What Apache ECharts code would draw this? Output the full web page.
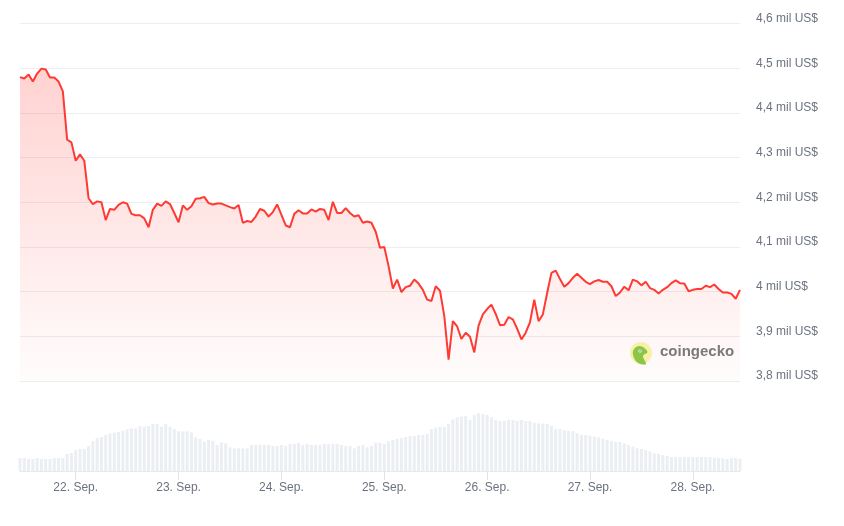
<!DOCTYPE html>
<html>
<head>
<meta charset="utf-8">
<script src="https://cdn.jsdelivr.net/npm/echarts@6/dist/echarts.min.js"></script>
<style>
html,body{margin:0;padding:0;background:#fff;}
#chart{width:844px;height:526px;}
</style>
</head>
<body>
<div id="chart"></div>
<script>
// Hourly samples from 21 Sep 11:00 to 28 Sep 11:00
const startDay = 21, startHour = 11, hourCount = 169;
const monthName = 'Sep.';

// price in US$
const prices = [
 4480,4477,4486,4470,4488,4499,4497,4479,4479,4470,
 4448,4340,4334,4293,4307,4293,4209,4196,4202,4200,
 4160,4185,4183,4194,4200,4197,4174,4171,4171,4164,
 4144,4183,4197,4192,4202,4196,4176,4155,4193,4183,
 4191,4208,4209,4212,4198,4195,4197,4197,4193,4189,
 4186,4194,4154,4158,4156,4168,4185,4181,4168,4178,
 4195,4172,4148,4144,4174,4182,4175,4175,4184,4179,
 4185,4183,4160,4201,4176,4176,4187,4176,4168,4171,
 4154,4157,4154,4134,4098,4100,4057,4007,4027,3999,
 4010,4013,4027,4018,4004,3982,3979,4012,4002,3945,
 3848,3934,3922,3894,3908,3899,3864,3924,3949,3961,
 3971,3950,3925,3926,3943,3938,3917,3893,3908,3932,
 3982,3934,3949,3997,4042,4047,4028,4011,4019,4031,
 4040,4031,4022,4017,4023,4026,4022,4022,4012,3990,
 3998,4011,4003,4027,4023,4014,4022,4008,4004,3996,
 4004,4010,4019,4025,4019,4018,4001,4004,4006,4006,
 4013,4010,4016,4006,3998,3998,3995,3984,4004
];

// trading volume (relative units)
const volumes = [
 39,39,36,36,39,36,36,36,39,39,
 39,51,54,63,66,66,75,90,99,102,
 108,113,115,117,121,125,128,128,135,133,
 135,141,141,133,141,133,126,119,119,119,
 116,101,96,88,93,90,78,86,83,71,
 68,68,68,68,78,78,78,78,78,75,
 75,78,75,81,81,84,78,81,78,78,
 78,81,81,81,81,78,75,75,68,75,
 78,71,75,85,85,81,89,93,96,99,
 102,105,105,108,108,111,126,130,132,132,
 141,155,161,163,165,153,168,173,171,168,
 161,153,150,150,153,153,150,153,150,150,
 145,143,142,141,135,126,126,123,120,120,
 113,108,108,106,103,101,97,93,89,87,
 87,83,78,73,68,66,63,58,53,51,
 48,45,42,42,42,42,42,42,42,42,
 42,42,40,39,38,36,39,39,37
];

const categories = [];
for (let i = 0; i < hourCount; i++) {
  const h = startHour + i;
  categories.push({ day: startDay + Math.floor(h / 24), hour: h % 24 });
}
const catLabels = categories.map(c => c.day + '. ' + monthName + ' ' + String(c.hour).padStart(2, '0') + ':00');
const isMidnight = idx => categories[idx].hour === 0;

const chart = echarts.init(document.getElementById('chart'), null, { renderer: 'canvas' });
const gray = '#6b7280';
const font = 'Liberation Sans, Arial, sans-serif';

chart.setOption({
  animation: false,
  backgroundColor: '#ffffff',
  grid: [
    { left: 20, right: 104, top: 23.5, bottom: 145 },
    { left: 20, right: 104, top: 390, bottom: 55 }
  ],
  xAxis: [
    { type: 'category', gridIndex: 0, data: catLabels, boundaryGap: false,
      axisLine: { show: false }, axisTick: { show: false }, axisLabel: { show: false }, splitLine: { show: false } },
    { type: 'category', gridIndex: 1, data: catLabels, boundaryGap: false,
      axisLine: { show: true, lineStyle: { color: '#e6e9ed', width: 1 } },
      axisTick: { show: true, interval: isMidnight, length: 9, lineStyle: { color: '#e1e5ea' } },
      axisLabel: { show: true, interval: isMidnight, color: gray, fontFamily: font, fontSize: 12, margin: 11,
        formatter: (v, idx) => categories[idx].day + '. ' + monthName },
      splitLine: { show: false } }
  ],
  yAxis: [
    { type: 'value', gridIndex: 0, position: 'right', min: 3800, max: 4600, interval: 100,
      axisLine: { show: false }, axisTick: { show: false },
      splitLine: { show: true, lineStyle: { color: '#eceef1', width: 1 } },
      axisLabel: { color: gray, fontFamily: font, fontSize: 12, margin: 16, align: 'left',
        verticalAlign: 'bottom', lineHeight: 10,
        formatter: v => (v % 1000 === 0 ? String(v / 1000) : (v / 1000).toFixed(1).replace('.', ',')) + ' mil US$' } },
    { type: 'value', gridIndex: 1, min: 0, max: 243, show: false, splitLine: { show: false } }
  ],
  series: [
    { type: 'bar', xAxisIndex: 1, yAxisIndex: 1, data: volumes, barWidth: 3,
      itemStyle: { color: '#ebeef2' }, silent: true },
    { type: 'line', xAxisIndex: 0, yAxisIndex: 0, data: prices, symbol: 'none', smooth: false,
      lineStyle: { color: '#ff3a33', width: 2 },
      areaStyle: { origin: 'start', color: new echarts.graphic.LinearGradient(0, 0, 0, 1, [
        { offset: 0, color: 'rgba(255,58,51,0.32)' },
        { offset: 1, color: 'rgba(255,58,51,0.02)' }
      ]) } }
  ],
  graphic: [
    { type: 'circle', shape: { cx: 641, cy: 353, r: 11 }, style: { fill: '#f7f0a6' }, z: 10 },
    { type: 'polygon', shape: { smooth: 0.35, points: [[633, 351], [637, 346.5], [642, 346.5], [647.5, 352], [643, 356], [646, 364], [639, 363.5], [634, 358]] },
      style: { fill: '#8dc647' }, z: 11 },
    { type: 'circle', shape: { cx: 640, cy: 351, r: 1.6 }, style: { fill: '#ffffff' }, z: 12 },
    { type: 'circle', shape: { cx: 640, cy: 351, r: 0.7 }, style: { fill: '#555555' }, z: 13 },
    { type: 'text', left: 660, top: 344, style: { text: 'coingecko', fill: '#7a7a7a', font: 'bold 15px ' + font }, z: 10 }
  ]
});
</script>
</body>
</html>
